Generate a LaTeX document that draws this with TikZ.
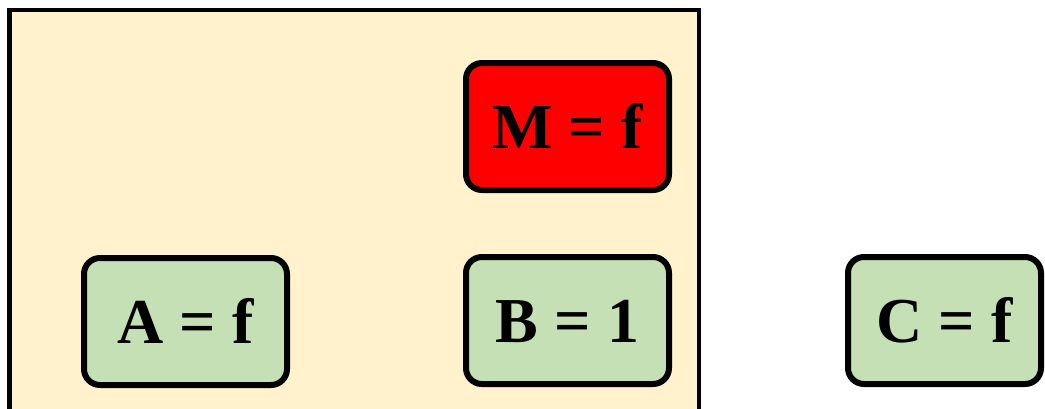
\documentclass[tikz,border=0pt]{standalone}
\usepackage{fontspec}
\setmainfont{Liberation Serif}
\definecolor{bgyellow}{HTML}{FFF2CC}
\definecolor{boxgreen}{HTML}{C5E0B4}
\definecolor{boxred}{HTML}{FF0000}
\tikzset{
  varbox/.style={draw=black, line width=6pt, rounded corners=16pt,
    minimum width=203pt, minimum height=127pt, inner sep=0pt,
    text height=43pt, text depth=0pt,
    font=\bfseries\fontsize{64}{72}\selectfont},
  greenbox/.style={varbox, fill=boxgreen},
  redbox/.style={varbox, fill=boxred},
  region/.style={draw=black, line width=4.5pt, fill=bgyellow}
}
\begin{document}
\begin{tikzpicture}[x=1pt,y=-1pt]
\useasboundingbox (0,0) rectangle (1045,408);
\clip (0,0) rectangle (1045,408);
\draw[region] (9.5,10) rectangle (699,440);
\node[redbox] (M) at (567.5,126.5) {M = f};
\node[greenbox] (B) at (567.5,320.5) {B = 1};
\node[greenbox] (A) at (185.5,321.5) {A = f};
\node[greenbox, minimum width=193pt] (C) at (944.5,320.5) {C = f};
\end{tikzpicture}
\end{document}
